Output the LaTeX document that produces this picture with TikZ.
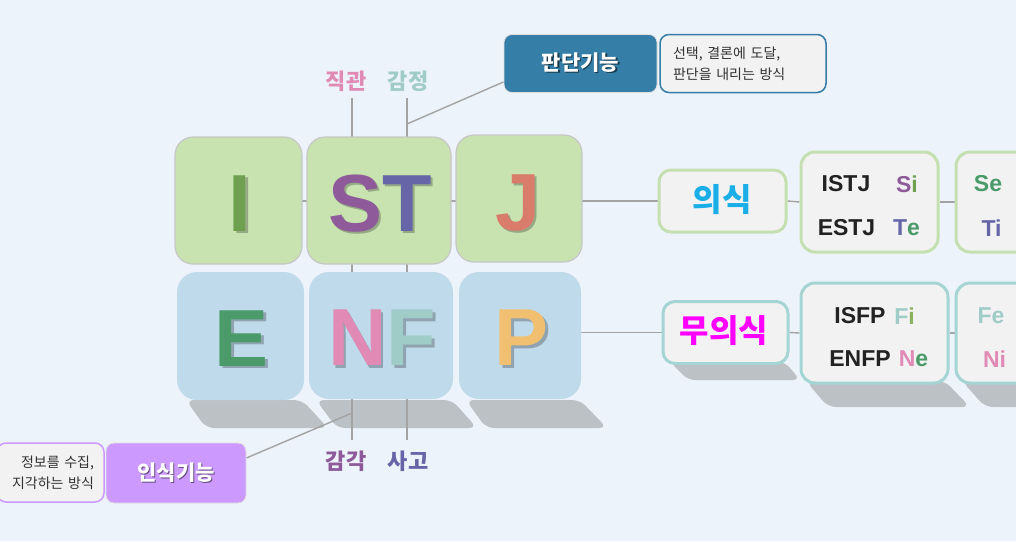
\documentclass[tikz,border=0pt]{standalone}
\usepackage{fontspec}
\setmainfont{Noto Sans CJK KR}
\newfontfamily\lat{Liberation Sans}[UprightFont={* Bold}, BoldFont={* Bold}]
\usetikzlibrary{calc}
\definecolor{bg}{HTML}{EDF3FA}
\definecolor{tgreen}{HTML}{C8E2B0}
\definecolor{bblue}{HTML}{BFDAEB}
\definecolor{cI}{HTML}{6FA050}
\definecolor{cS}{HTML}{8E5A9A}
\definecolor{cT}{HTML}{6565A8}
\definecolor{cJ}{HTML}{D97C6C}
\definecolor{cE}{HTML}{4A9A6A}
\definecolor{cN}{HTML}{E08AB5}
\definecolor{cF}{HTML}{A0CCC8}
\definecolor{cP}{HTML}{F0C070}
\definecolor{ci2}{HTML}{8AB060}
\definecolor{pdblue}{HTML}{357EA8}
\definecolor{ikpur}{HTML}{CC99FF}
\definecolor{uigreen}{HTML}{C5E0B0}
\definecolor{muteal}{HTML}{A5D4D4}
\definecolor{uitext}{HTML}{19AEE8}
\definecolor{mutext}{HTML}{FF00FF}
\definecolor{boxfill}{HTML}{F2F2F2}
\definecolor{shad}{HTML}{BCC1C5}
\definecolor{linec}{HTML}{A3A3A3}
\definecolor{ink}{HTML}{222222}
\definecolor{desci}{HTML}{333333}
\newcommand\shadowed[3]{\makebox[0pt][l]{\hspace{#3}\raisebox{-#3}{\textcolor{#2}{#1}}}#1}
\pgfdeclarelayer{bgl}
\pgfdeclarelayer{lines}
\pgfsetlayers{bgl,lines,main}
\tikzset{
  conn/.style={draw=linec, line width=1.4pt},
  topbox/.style={rectangle, rounded corners=18pt, fill=tgreen, draw=black!22, line width=1.2pt, inner sep=0pt},
  botbox/.style={rectangle, rounded corners=20pt, fill=bblue, inner sep=0pt},
  bigl/.style={font=\lat\fontsize{81}{81}\selectfont, anchor=base, inner sep=0pt},
  bigsh/.style={bigl, text=black, opacity=0.25},
  lbl/.style={font=\fontsize{22}{24}\selectfont\bfseries, inner sep=0pt},
  greenbox/.style={rectangle, rounded corners=12pt, fill=boxfill, draw=uigreen, line width=3pt, inner sep=0pt},
  tealbox/.style={rectangle, rounded corners=12pt, fill=boxfill, draw=muteal, line width=3pt, inner sep=0pt},
  mbt/.style={font=\lat\fontsize{23}{25}\selectfont, inner sep=0pt, text=ink},
  fnt/.style={font=\lat\fontsize{23}{25}\selectfont, inner sep=0pt},
  bigk/.style={font=\fontsize{32}{34}\selectfont\bfseries, inner sep=0pt},
  funcbox/.style={rectangle, rounded corners=8pt, text=white, font=\fontsize{21}{24}\selectfont\bfseries, draw=black!12, line width=0.8pt, inner sep=0pt},
  descbox/.style={rectangle, rounded corners=9pt, fill=boxfill, line width=1.5pt, font=\fontsize{14}{21}\selectfont, text=desci, inner ysep=0pt},
}
\begin{document}
\begin{tikzpicture}[x=1pt,y=-1pt]
\useasboundingbox (0,0) rectangle (1016,541);
\begin{pgfonlayer}{bgl}
\fill[bg] (0,0) rectangle (1016,541);
% skewed shadows
\fill[shad, rounded corners=8pt] (186,400) -- (302,400) -- (328,428) -- (206,428) -- cycle;
\fill[shad, rounded corners=8pt] (316,400) -- (452,400) -- (477,428) -- (337,428) -- cycle;
\fill[shad, rounded corners=8pt] (466,400) -- (580,400) -- (607,428) -- (486,428) -- cycle;
\fill[shad, rounded corners=7pt] (670,362) -- (785,362) -- (800,380) -- (688,380) -- cycle;
\fill[shad, rounded corners=8pt] (806,381) -- (945,381) -- (970,407) -- (828,407) -- cycle;
\fill[shad, rounded corners=8pt] (962,381) -- (1030,381) -- (1050,407) -- (985,407) -- cycle;
\end{pgfonlayer}

% top row
\node[topbox, minimum width=127pt, minimum height=127pt] (bI) at (238.5,200.5) {};
\node[topbox, minimum width=144pt, minimum height=127pt] (bST) at (379,200.5) {};
\node[topbox, minimum width=126pt, minimum height=127pt] (bJ) at (519,198.5) {};
% bottom row
\node[botbox, minimum width=127pt, minimum height=128pt] (bE) at (240.5,336) {};
\node[botbox, minimum width=144pt, minimum height=127pt] (bNF) at (381,335.5) {};
\node[botbox, minimum width=122pt, minimum height=127pt] (bP) at (520,335.5) {};

% big letters
\node[bigsh] (sI) at (242.5,233.5) {I};
\node[bigl, text=cI] (lI) at (240,231) {I};
\node[bigsh] (sST) at (382.5,233.5) {ST};
\node[bigl] (lST) at (380,231) {\textcolor{cS}{S}\textcolor{cT}{T}};
\node[bigsh] (sJ) at (520.5,232.5) {J};
\node[bigl, text=cJ] (lJ) at (518,230) {J};
\node[bigsh] (sE) at (244.5,368.5) {E};
\node[bigl, text=cE] (lE) at (242,366) {E};
\node[bigsh] (sNF) at (384.5,368) {NF};
\node[bigl] (lNF) at (382,365.5) {\textcolor{cN}{N}\textcolor{cF}{F}};
\node[bigsh] (sP) at (524.5,368) {P};
\node[bigl, text=cP] (lP) at (522,365.5) {P};

% axis labels
\node[lbl, text=cN] (lzg) at (346,81) {직관};
\node[lbl, text=cF] (lgj) at (408,81) {감정};
\node[lbl, text=cS] (lgg) at (346,461) {감각};
\node[lbl, text=cT] (lsg) at (408,461) {사고};

% function boxes
\node[funcbox, fill=pdblue, minimum width=153pt, minimum height=58pt] (pd) at (580.5,63.5) {\shadowed{판단기능}{pdblue!45!black}{1.2pt}};
\node[descbox, draw=pdblue, minimum width=166pt, minimum height=58pt, text width=140pt, inner xsep=13pt, align=left] (pdd) at (743,63.5) {선택, 결론에 도달,\\판단을 내리는 방식};
\node[funcbox, fill=ikpur, minimum width=140pt, minimum height=60pt] (ik) at (176,473) {\shadowed{인식기능}{ikpur!50!black}{1.2pt}};
\node[descbox, draw=ikpur, minimum width=107pt, minimum height=59pt, text width=87pt, inner xsep=10pt, align=right] (ikd) at (50.5,472.5) {정보를 수집,\\지각하는 방식};

% right side: conscious
\node[greenbox, minimum width=127pt, minimum height=62pt] (ui) at (722.5,201) {};
\node[bigk, text=uitext] (uit) at (722,200) {의식};
\node[greenbox, rounded corners=14pt, minimum width=137pt, minimum height=100pt] (bx1) at (869.5,202) {};
\node[greenbox, rounded corners=14pt, minimum width=130pt, minimum height=100pt] (bx2) at (1021,202) {};
\node[mbt] (t1) at (846,184) {ISTJ};
\node[fnt] (t2) at (907,184) {\textcolor{cS}{S}\textcolor{cI}{i}};
\node[mbt] (t3) at (846.5,228) {ESTJ};
\node[fnt] (t4) at (906.5,228) {\textcolor{cT}{T}\textcolor{cE}{e}};
\node[fnt, text=cE] (t5) at (988,184) {Se};
\node[fnt, text=cT] (t6) at (991.5,228) {Ti};

% right side: unconscious
\node[tealbox, minimum width=125pt, minimum height=62pt] (mu) at (725.5,332.5) {};
\node[bigk, text=mutext] (mut) at (724,331) {무의식};
\node[tealbox, rounded corners=14pt, minimum width=147pt, minimum height=100pt] (bx3) at (874.5,333) {};
\node[tealbox, rounded corners=14pt, minimum width=130pt, minimum height=100pt] (bx4) at (1021,333) {};
\node[mbt] (u1) at (860,316) {ISFP};
\node[fnt] (u2) at (904.5,316) {\textcolor{cF}{F}\textcolor{ci2}{i}};
\node[mbt] (u3) at (860,359) {ENFP};
\node[fnt] (u4) at (913.5,359) {\textcolor{cN}{N}\textcolor{cE}{e}};
\node[fnt, text=cF] (u5) at (991,316) {Fe};
\node[fnt, text=cN] (u6) at (994.5,359) {Ni};

% connectors
\coordinate (v1t) at (352,98);
\coordinate (v1b) at (352,440);
\coordinate (v2t) at (407,98);
\coordinate (v2b) at (407,440);
\coordinate (jt) at (407,124);
\coordinate (it) at (352,413);
\begin{pgfonlayer}{lines}
\draw[conn] (v1t) -- (v1b);
\draw[conn] (v2t) -- (v2b);
\draw[conn] (jt) -- ([yshift=11pt]pd.south west);
\draw[conn] (it) -- ([yshift=15pt]ik.east);
\draw[conn] (bI.center |- ui.west) -- (ui.west);
\draw[conn] (ui.east) -- (bx1.west);
\draw[conn] (bx1.east) -- (bx2.west);
\draw[conn] (bP.center |- mu.west) -- (mu.west);
\draw[conn] (mu.east) -- (bx3.west);
\draw[conn] (bx3.east) -- (bx4.west);
\end{pgfonlayer}
\end{tikzpicture}
\end{document}
